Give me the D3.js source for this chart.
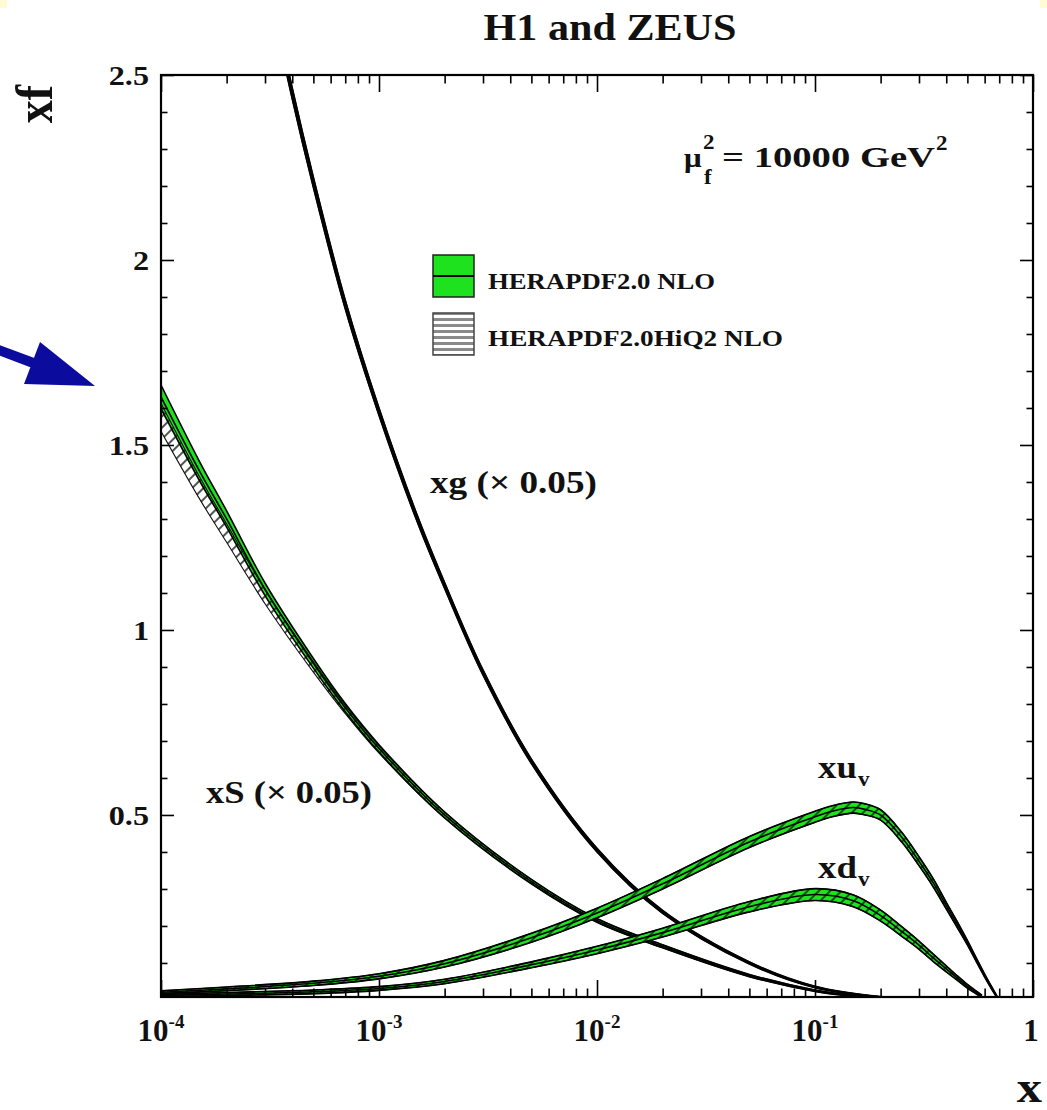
<!DOCTYPE html>
<html>
<head>
<meta charset="utf-8">
<script src="https://cdn.jsdelivr.net/npm/d3@7"></script>
<style>
  body { margin: 0; background: #fff; }
  svg { display: block; }
  text { font-family: "Liberation Serif", "Times New Roman", serif; font-weight: bold; fill: #111; }
</style>
</head>
<body>
<svg id="chart" width="1047" height="1110"></svg>
<script>
// values; xg and xS are already multiplied by 0.05
var uvX = [0.0001, 0.0002, 0.0005, 0.001, 0.002, 0.005, 0.01, 0.02, 0.05, 0.1, 0.12, 0.15, 0.17, 0.2, 0.25, 0.3, 0.35, 0.4, 0.45, 0.5, 0.55, 0.6, 0.65, 0.684];
var uvVal = [0.021, 0.03, 0.045, 0.064, 0.098, 0.168, 0.235, 0.314, 0.427, 0.495, 0.51, 0.52, 0.515, 0.5, 0.44, 0.375, 0.315, 0.255, 0.203, 0.155, 0.108, 0.066, 0.03, 0.008];
var uvErr = [0.004, 0.005, 0.006, 0.007, 0.009, 0.012, 0.013, 0.014, 0.015, 0.015, 0.015, 0.015, 0.015, 0.014, 0.013, 0.012, 0.011, 0.009, 0.008, 0.006, 0.005, 0.004, 0.003, 0.002];

var dvX = [0.0001, 0.0002, 0.0005, 0.001, 0.002, 0.005, 0.01, 0.02, 0.05, 0.1, 0.15, 0.2, 0.25, 0.3, 0.35, 0.4, 0.45, 0.5, 0.55, 0.583];
var dvVal = [0.012, 0.016, 0.022, 0.031, 0.05, 0.095, 0.135, 0.182, 0.252, 0.285, 0.268, 0.228, 0.185, 0.148, 0.113, 0.084, 0.059, 0.037, 0.02, 0.01];
var dvErr = [0.003, 0.004, 0.005, 0.005, 0.006, 0.008, 0.01, 0.012, 0.014, 0.016, 0.016, 0.015, 0.013, 0.011, 0.01, 0.008, 0.006, 0.005, 0.004, 0.003];

var seaX = [0.0001, 0.00015, 0.0002, 0.0003, 0.0005, 0.0007, 0.001, 0.002, 0.005, 0.01, 0.02, 0.05, 0.1, 0.15, 0.2, 0.3];
var seaVal = [1.63, 1.43, 1.30, 1.11, 0.91, 0.79, 0.68, 0.50, 0.32, 0.215, 0.145, 0.066, 0.025, 0.011, 0.005, 0.001];
var seaErr = [0.032, 0.026, 0.022, 0.017, 0.013, 0.011, 0.01, 0.008, 0.006, 0.005, 0.004, 0.003, 0.002, 0.0015, 0.001, 0.0005];
var seaHiVal = [1.575, 1.385, 1.262, 1.09, 0.90, 0.785, 0.677, 0.50, 0.32, 0.215, 0.145, 0.066, 0.025, 0.011, 0.005, 0.001];
var seaHiErr = [0.038, 0.03, 0.025, 0.019, 0.014, 0.011, 0.01, 0.008, 0.006, 0.005, 0.004, 0.003, 0.002, 0.0015, 0.001, 0.0005];

var gX = [0.0003, 0.0004, 0.0005, 0.0007, 0.001, 0.0015, 0.002, 0.003, 0.005, 0.01, 0.02, 0.05, 0.1, 0.2, 0.3];
var gVal = [2.79, 2.45, 2.21, 1.88, 1.59, 1.30, 1.12, 0.885, 0.645, 0.405, 0.238, 0.1, 0.035, 0.008, 0.002];
var gErr = [0.016, 0.015, 0.014, 0.012, 0.01, 0.009, 0.008, 0.007, 0.006, 0.005, 0.004, 0.003, 0.002, 0.001, 0.0005];

var xMajor = [0.0001, 0.001, 0.01, 0.1, 1];
var xLabels = [["10", "-4"], ["10", "-3"], ["10", "-2"], ["10", "-1"], ["1", ""]];
var yMajor = [0.5, 1, 1.5, 2, 2.5];
var yLabels = ["0.5", "1", "1.5", "2", "2.5"];
var legendNames = ["HERAPDF2.0 NLO", "HERAPDF2.0HiQ2 NLO"];

var svg = d3.select("#chart");
var frame = { left: 161, right: 1033, top: 75, bottom: 997 };
var green = "#1de21d";

var x = d3.scaleLog().domain([1e-4, 1]).range([frame.left, frame.right]);
var y = d3.scaleLinear().domain([0.008, 2.5]).range([frame.bottom, frame.top]);

var defs = svg.append("defs");
defs.append("clipPath").attr("id", "plot").append("rect")
  .attr("x", frame.left).attr("y", frame.top)
  .attr("width", frame.right - frame.left).attr("height", frame.bottom - frame.top);
var hatch = defs.append("pattern").attr("id", "hatch").attr("width", 8).attr("height", 8)
  .attr("patternUnits", "userSpaceOnUse").attr("patternTransform", "rotate(45)");
hatch.append("line").attr("x1", 1).attr("y1", 0).attr("x2", 1).attr("y2", 8)
  .attr("stroke", "#142014").attr("stroke-width", 1.5);
var stripes = defs.append("pattern").attr("id", "stripes").attr("width", 6).attr("height", 6)
  .attr("patternUnits", "userSpaceOnUse");
stripes.append("rect").attr("width", 6).attr("height", 6).attr("fill", "#fff");
stripes.append("rect").attr("width", 6).attr("height", 3).attr("fill", "#8a8a8a");

// small tinted corners of the original screenshot
svg.append("rect").attr("x", 0).attr("y", 0).attr("width", 7).attr("height", 8).attr("fill", "#fffbd2");
svg.append("rect").attr("x", 1040).attr("y", 0).attr("width", 7).attr("height", 8).attr("fill", "#fffbd2");

var plot = svg.append("g").attr("clip-path", "url(#plot)");
var smooth = d3.curveCatmullRom.alpha(0.5);

function drawBand(xs, mid, err, hiMid, hiErr) {
  var pts = xs.map(function (v, i) {
    return { x: v, m: mid[i], e: err[i], hm: hiMid[i], he: hiErr[i] };
  });
  var nlo = d3.area().x(function (d) { return x(d.x); })
    .y0(function (d) { return y(d.m - d.e); }).y1(function (d) { return y(d.m + d.e); })
    .curve(smooth);
  var hi = d3.area().x(function (d) { return x(d.x); })
    .y0(function (d) { return y(d.hm - d.he); }).y1(function (d) { return y(d.hm + d.he); })
    .curve(smooth);
  function edge(f) {
    return d3.line().x(function (d) { return x(d.x); }).y(function (d) { return y(f(d)); }).curve(smooth)(pts);
  }
  plot.append("path").attr("d", nlo(pts)).attr("fill", green);
  plot.append("path").attr("d", hi(pts)).attr("fill", "url(#hatch)");
  [function (d) { return d.hm - d.he; }, function (d) { return d.hm + d.he; }].forEach(function (f) {
    plot.append("path").attr("d", edge(f)).attr("fill", "none").attr("stroke", "#111").attr("stroke-width", 1.1);
  });
  [function (d) { return d.m - d.e; }, function (d) { return d.m + d.e; }, function (d) { return d.m; }].forEach(function (f) {
    plot.append("path").attr("d", edge(f)).attr("fill", "none").attr("stroke", "#000").attr("stroke-width", 1.6);
  });
}

drawBand(seaX, seaVal, seaErr, seaHiVal, seaHiErr);
drawBand(gX, gVal, gErr, gVal, gErr);
drawBand(dvX, dvVal, dvErr, dvVal, dvErr);
drawBand(uvX, uvVal, uvErr, uvVal, uvErr);

// axes: ticks on all four sides, pointing inwards
var xMinor = [];
for (var e = -4; e < 0; e++) {
  for (var k = 2; k < 10; k++) xMinor.push(k * Math.pow(10, e));
}
var yMinor = d3.range(1, 25).map(function (i) { return i / 10; })
  .filter(function (v) { return Math.abs(v * 2 - Math.round(v * 2)) > 1e-6; });

function addAxis(axis, tx, ty) {
  var g = svg.append("g").attr("transform", "translate(" + tx + "," + ty + ")").call(axis);
  g.select(".domain").remove();
  g.selectAll("text").remove();
  g.selectAll("line").attr("stroke", "#000").attr("stroke-width", 1.6);
}
addAxis(d3.axisBottom(x).tickValues(xMajor).tickSize(-17), 0, frame.bottom);
addAxis(d3.axisBottom(x).tickValues(xMinor).tickSize(-8.5), 0, frame.bottom);
addAxis(d3.axisTop(x).tickValues(xMajor).tickSize(-17), 0, frame.top);
addAxis(d3.axisTop(x).tickValues(xMinor).tickSize(-8.5), 0, frame.top);
addAxis(d3.axisLeft(y).tickValues(yMajor).tickSize(-13), frame.left, 0);
addAxis(d3.axisLeft(y).tickValues(yMinor).tickSize(-6.5), frame.left, 0);
addAxis(d3.axisRight(y).tickValues(yMajor).tickSize(-13), frame.right, 0);
addAxis(d3.axisRight(y).tickValues(yMinor).tickSize(-6.5), frame.right, 0);

svg.append("rect").attr("x", frame.left).attr("y", frame.top)
  .attr("width", frame.right - frame.left).attr("height", frame.bottom - frame.top)
  .attr("fill", "none").attr("stroke", "#000").attr("stroke-width", 2.2);

function label(px, py, str, size, anchor, width) {
  var g = svg.append("g").attr("transform", "translate(" + px + "," + py + ")" + (width ? "" : " scale(1.15,1)"));
  var t = g.append("text").attr("text-anchor", anchor || "start").style("font-size", size + "px").text(str);
  if (width) t.attr("textLength", width).attr("lengthAdjust", "spacingAndGlyphs");
  return t;
}

xMajor.forEach(function (v, i) {
  var g = svg.append("g").attr("transform", "translate(" + (x(v) + (xLabels[i][1] ? 0 : -2)) + ",1041)");
  var t = g.append("text").attr("text-anchor", "middle").style("font-size", "31px");
  t.append("tspan").text(xLabels[i][0]);
  if (xLabels[i][1]) t.append("tspan").attr("dy", -13).style("font-size", "19px").text(xLabels[i][1]);
});
yMajor.forEach(function (v, i) {
  label(149, y(v) + 10, yLabels[i], 28, "end");
});

label(610, 40, "H1 and ZEUS", 37, "middle", 253);
label(1042, 1102, "x", 44, "end");
svg.append("g").attr("transform", "translate(52,85) scale(1.15,1) rotate(-90)")
  .append("text").attr("text-anchor", "end").style("font-size", "46px").text("xf");

// factorisation scale
label(684, 167, "\u03bc", 27, "start");
label(703, 149, "2", 20, "start");
label(704, 184, "f", 20, "start");
label(722, 167, "= 10000 GeV", 30, "start", 213);
label(936, 150, "2", 20, "start");

// curve labels
label(430, 493, "xg (\u00d7 0.05)", 32, "start", 167);
label(206, 803, "xS (\u00d7 0.05)", 32, "start", 166);
label(818, 778, "xu", 32, "start");
label(858, 786, "v", 20, "start");
label(818, 878, "xd", 32, "start");
label(858, 886, "v", 20, "start");

// legend
svg.append("rect").attr("x", 433).attr("y", 255).attr("width", 41).attr("height", 42)
  .attr("fill", green).attr("stroke", "#222").attr("stroke-width", 1.5);
svg.append("line").attr("x1", 433).attr("x2", 474).attr("y1", 276).attr("y2", 276)
  .attr("stroke", "#000").attr("stroke-width", 2);
svg.append("rect").attr("x", 433).attr("y", 313).attr("width", 41).attr("height", 42)
  .attr("fill", "url(#stripes)").attr("stroke", "#444").attr("stroke-width", 1.5);
label(488, 289, legendNames[0], 24, "start", 227);
label(488, 346, legendNames[1], 24, "start", 295);

// blue arrow pointing at the plot
svg.append("line").attr("x1", -4).attr("y1", 349).attr("x2", 36).attr("y2", 364)
  .attr("stroke", "#0b0b9e").attr("stroke-width", 10);
svg.append("polygon").attr("points", "40,342 24,384 95,386").attr("fill", "#0b0b9e");
</script>
</body>
</html>
